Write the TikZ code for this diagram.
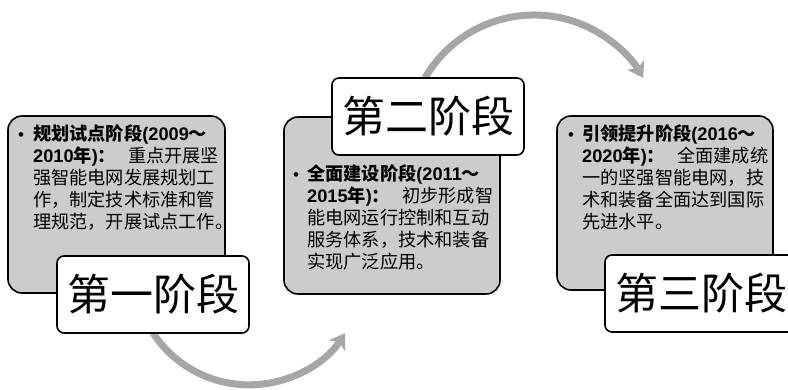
\documentclass[tikz,border=0pt]{standalone}
\usepackage{fontspec}
\setmainfont{Liberation Sans}
\newfontfamily\cjk{Noto Sans CJK SC}
\usetikzlibrary{arrows.meta}
\definecolor{boxgray}{HTML}{CCCCCC}
\definecolor{arrowgray}{HTML}{A6A6A6}
\newcommand{\Cz}[1]{{\cjk #1}}
\tikzset{
  graybox/.style={draw=black, line width=1.6pt, fill=boxgray, rounded corners=14pt, inner sep=0pt},
  labelbox/.style={draw=black, line width=1.6pt, fill=white, rounded corners=7pt, inner sep=0pt,
    minimum width=192pt, minimum height=77pt, font=\cjk\fontsize{43}{50}\selectfont},
  bodytext/.style={anchor=north west, inner sep=0pt, text width=186pt, align=left,
    font=\fontsize{18.2}{22}\selectfont},
  bulletmark/.style={anchor=base, inner sep=0pt, font=\fontsize{17}{19}\selectfont},
  bigarrow/.style={draw=arrowgray, line width=7pt, -{Stealth[length=15pt,width=19pt,inset=4pt]}}
}
\begin{document}
\begin{tikzpicture}[x=1pt,y=-1pt]
\useasboundingbox (0,0) rectangle (788,389);
\clip (0,0) rectangle (788,389);

% arrows (behind boxes)
\coordinate (a1s) at (153,333);
\coordinate (a2s) at (425,78);
\draw[bigarrow] (a1s) arc[start angle=146.7, end angle=33.3, radius=115];
\draw[bigarrow] (a2s) arc[start angle=-150, end angle=-30, radius=126];

% stage 1
\node[graybox, minimum width=217pt, minimum height=177pt] (b1) at (116.5,204.5) {};
\node[bulletmark] (d1) at (21,140) {•};
\node[bodytext] (t1) at (33,124.5) {%
{\bfseries\Cz{规划试点阶段}(2009\Cz{～}}\\
{\bfseries 2010\Cz{年})\Cz{：}}\hfill\Cz{重点开展坚}\\
\Cz{强智能电网发展规划工}\\
\Cz{作，制定技术标准和管}\\
\Cz{理规范，开展试点工作。}};
\node[labelbox] (l1) at (153,294.5) {第一阶段};

% stage 2
\node[graybox, minimum width=216pt, minimum height=177pt] (b2) at (392,205.5) {};
\node[labelbox] (l2) at (428,116.5) {第二阶段};
\node[bulletmark] (d2) at (296,180) {•};
\node[bodytext] (t2) at (307,164.5) {%
{\bfseries\Cz{全面建设阶段}(2011\Cz{～}}\\
{\bfseries 2015\Cz{年})\Cz{：}}\hfill\Cz{初步形成智}\\
\Cz{能电网运行控制和互动}\\
\Cz{服务体系，技术和装备}\\
\Cz{实现广泛应用。}};

% stage 3
\node[graybox, minimum width=216pt, minimum height=174pt] (b3) at (665,203) {};
\node[bulletmark] (d3) at (571,140) {•};
\node[bodytext] (t3) at (582,124.5) {%
{\bfseries\Cz{引领提升阶段}(2016\Cz{～}}\\
{\bfseries 2020\Cz{年})\Cz{：}}\hfill\Cz{全面建成统}\\
\Cz{一的坚强智能电网，技}\\
\Cz{术和装备全面达到国际}\\
\Cz{先进水平。}};
\node[labelbox] (l3) at (701,293.5) {第三阶段};
\end{tikzpicture}
\end{document}
